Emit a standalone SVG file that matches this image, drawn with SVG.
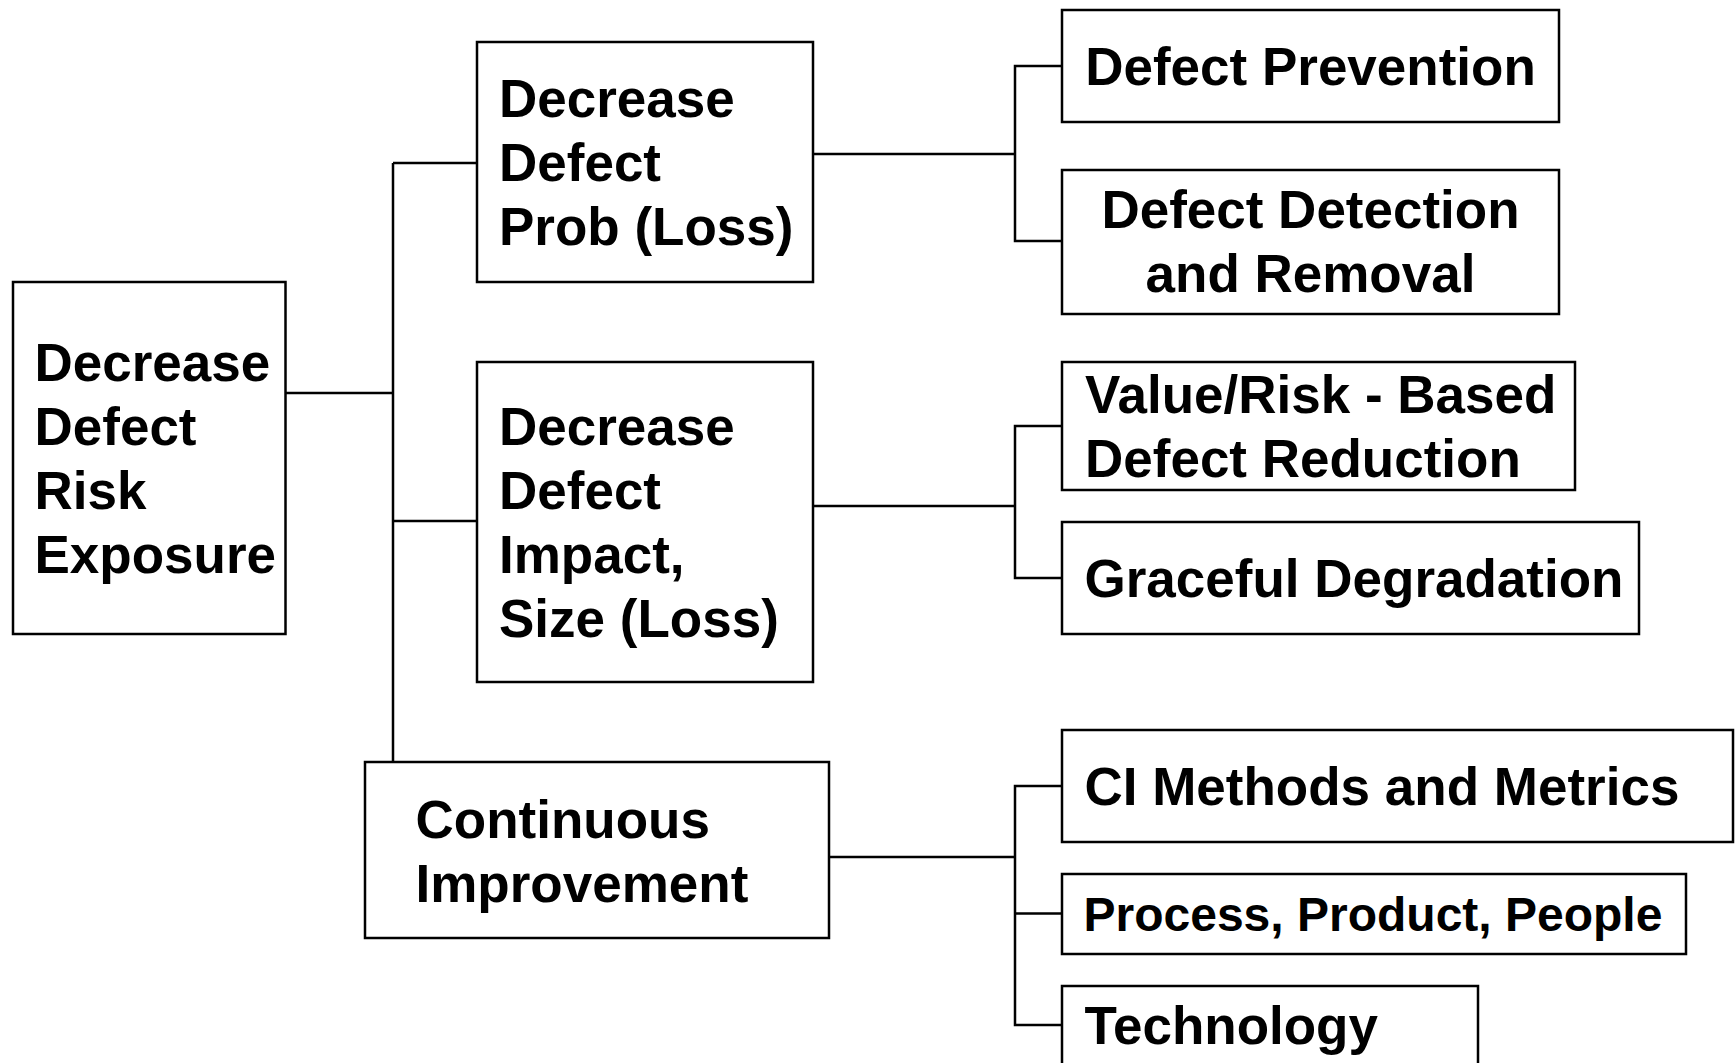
<svg xmlns="http://www.w3.org/2000/svg" width="1735" height="1063" viewBox="0 0 1735 1063">
<style>
.box{fill:#fff;stroke:#000;stroke-width:2.5}
.t{font-family:"Liberation Sans",Arial,sans-serif;font-weight:bold;font-size:53px;fill:#000}
.s{font-size:48px}
.m{text-anchor:middle}
.c{fill:none;stroke:#000;stroke-width:2.5}
</style>
<rect width="1735" height="1063" fill="#fff"/>
<g id="connectors">
<path class="c" d="M285.5,393 H393"/>
<path class="c" d="M393,163 V762"/>
<path class="c" d="M393,163 H477"/>
<path class="c" d="M393,521 H477"/>
<path class="c" d="M813,154 H1015"/>
<path class="c" d="M1062,66 H1015 V241 H1062"/>
<path class="c" d="M813,506 H1015"/>
<path class="c" d="M1062,426 H1015 V578 H1062"/>
<path class="c" d="M829,857 H1015"/>
<path class="c" d="M1062,786 H1015 V1025 H1062"/>
<path class="c" d="M1015,913.5 H1062"/>
</g>
<g id="root">
<rect class="box" x="13" y="282" width="272.5" height="352"/>
<text class="t" x="34.5" y="380.5">Decrease</text>
<text class="t" x="34.5" y="444.5">Defect</text>
<text class="t" x="34.5" y="508.5">Risk</text>
<text class="t" x="34.5" y="572.5">Exposure</text>
</g>
<g id="prob">
<rect class="box" x="477" y="42" width="336" height="240"/>
<text class="t" x="499" y="117">Decrease</text>
<text class="t" x="499" y="181">Defect</text>
<text class="t" x="499" y="245">Prob (Loss)</text>
</g>
<g id="impact">
<rect class="box" x="477" y="362" width="336" height="320"/>
<text class="t" x="499" y="444.5">Decrease</text>
<text class="t" x="499" y="508.5">Defect</text>
<text class="t" x="499" y="572.5">Impact,</text>
<text class="t" x="499" y="637">Size (Loss)</text>
</g>
<g id="ci">
<rect class="box" x="365" y="762" width="464" height="176"/>
<text class="t" x="415.5" y="837.5">Continuous</text>
<text class="t" x="415.5" y="901.5">Improvement</text>
</g>
<g id="prevention">
<rect class="box" x="1062" y="10" width="497" height="112"/>
<text class="t m" x="1310.5" y="84.5">Defect Prevention</text>
</g>
<g id="detection">
<rect class="box" x="1062" y="170" width="497" height="144"/>
<text class="t m" x="1310.5" y="227.5">Defect Detection</text>
<text class="t m" x="1310.5" y="291.5">and Removal</text>
</g>
<g id="valuerisk">
<rect class="box" x="1062" y="362" width="513" height="128"/>
<text class="t" x="1085" y="413">Value/Risk - Based</text>
<text class="t" x="1085" y="477">Defect Reduction</text>
</g>
<g id="graceful">
<rect class="box" x="1062" y="522" width="577" height="112"/>
<text class="t" x="1084.5" y="597">Graceful Degradation</text>
</g>
<g id="cimethods">
<rect class="box" x="1062" y="730" width="671" height="112"/>
<text class="t" x="1084.5" y="805">CI Methods and Metrics</text>
</g>
<g id="ppp">
<rect class="box" x="1062" y="874" width="624" height="80"/>
<text class="t s" x="1083.5" y="931">Process, Product, People</text>
</g>
<g id="technology">
<rect class="box" x="1062" y="986" width="416" height="100"/>
<text class="t" x="1084.5" y="1044">Technology</text>
</g>
</svg>
